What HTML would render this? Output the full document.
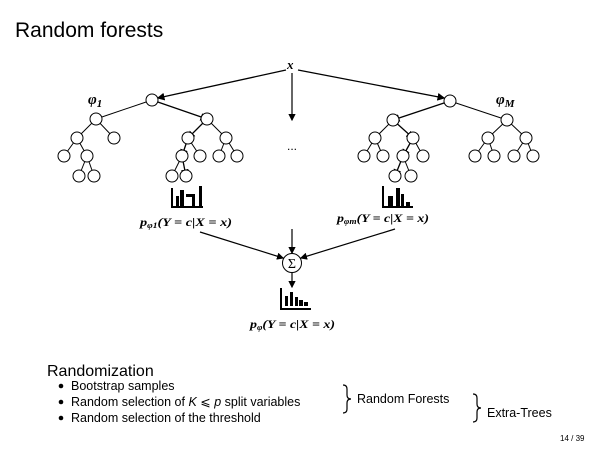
<!DOCTYPE html>
<html><head><style>
body{margin:0;background:#fff;}
svg{display:block;font-family:"Liberation Sans",sans-serif;}
</style></head><body>
<svg width="600" height="450" viewBox="0 0 600 450" xmlns="http://www.w3.org/2000/svg">
<defs><marker id="a" markerWidth="6" markerHeight="6" refX="5" refY="3" orient="auto"><path d="M0,0 L6,3 L0,6 z" fill="#000"/></marker></defs>
<text x="15" y="37" font-size="21">Random forests</text>
<text x="287" y="69" font-size="13" font-style="italic" font-family="Liberation Serif" font-weight="bold">x</text>
<g stroke="#000" stroke-width="1" fill="none">
<line x1="286" y1="70" x2="158" y2="98" stroke-width="1.3" marker-end="url(#a)"/>
<line x1="298" y1="70" x2="444" y2="98" stroke-width="1.3" marker-end="url(#a)"/>
<line x1="292" y1="73" x2="292" y2="120" stroke-width="1.2" marker-end="url(#a)"/>
<line x1="152" y1="100" x2="96" y2="119"/>
<line x1="152" y1="100" x2="207" y2="119" stroke-width="1.3" marker-end="url(#a)"/>
<line x1="96" y1="119" x2="77" y2="138"/><line x1="96" y1="119" x2="114" y2="138"/>
<line x1="207" y1="119" x2="188" y2="138" stroke-width="1.3" marker-end="url(#a)"/><line x1="207" y1="119" x2="226" y2="138"/>
<line x1="77" y1="138" x2="64" y2="156"/><line x1="77" y1="138" x2="87" y2="156"/>
<line x1="188" y1="138" x2="182" y2="156" stroke-width="1.3" marker-end="url(#a)"/><line x1="188" y1="138" x2="200" y2="156"/>
<line x1="226" y1="138" x2="219" y2="156"/><line x1="226" y1="138" x2="237" y2="156"/>
<line x1="87" y1="156" x2="79" y2="176"/><line x1="87" y1="156" x2="94" y2="176"/>
<line x1="182" y1="156" x2="172" y2="176"/><line x1="182" y1="156" x2="186" y2="176" stroke-width="1.3" marker-end="url(#a)"/>
<line x1="450" y1="101" x2="393" y2="120" stroke-width="1.3" marker-end="url(#a)"/>
<line x1="450" y1="101" x2="507" y2="120"/>
<line x1="393" y1="120" x2="375" y2="138"/><line x1="393" y1="120" x2="413" y2="138" stroke-width="1.3" marker-end="url(#a)"/>
<line x1="507" y1="120" x2="488" y2="138"/><line x1="507" y1="120" x2="526" y2="138"/>
<line x1="375" y1="138" x2="364" y2="156"/><line x1="375" y1="138" x2="383" y2="156"/>
<line x1="413" y1="138" x2="403" y2="156" stroke-width="1.3" marker-end="url(#a)"/><line x1="413" y1="138" x2="423" y2="156"/>
<line x1="488" y1="138" x2="475" y2="156"/><line x1="488" y1="138" x2="494" y2="156"/>
<line x1="526" y1="138" x2="514" y2="156"/><line x1="526" y1="138" x2="533" y2="156"/>
<line x1="403" y1="156" x2="395" y2="176" stroke-width="1.3" marker-end="url(#a)"/><line x1="403" y1="156" x2="411" y2="176"/>
<line x1="200" y1="232" x2="283" y2="258" stroke-width="1.2" marker-end="url(#a)"/>
<line x1="395" y1="229" x2="301" y2="258" stroke-width="1.2" marker-end="url(#a)"/>
<line x1="292" y1="229" x2="292" y2="253" stroke-width="1.2" marker-end="url(#a)"/>
<line x1="292" y1="273" x2="292" y2="287" stroke-width="1.2" marker-end="url(#a)"/>
<path d="M343,385 q4,0 4,4 v6 q0,4 4,4 q-4,0 -4,4 v6 q0,4 -4,4" stroke-width="1.2"/>
<path d="M473,394 q4,0 4,4 v6 q0,4 4,4 q-4,0 -4,4 v6 q0,4 -4,4" stroke-width="1.2"/>
</g>
<g stroke="#000" stroke-width="1" fill="#fff">
<circle cx="152" cy="100" r="6"/><circle cx="96" cy="119" r="6"/><circle cx="207" cy="119" r="6"/>
<circle cx="77" cy="138" r="6"/><circle cx="114" cy="138" r="6"/><circle cx="188" cy="138" r="6"/><circle cx="226" cy="138" r="6"/>
<circle cx="64" cy="156" r="6"/><circle cx="87" cy="156" r="6"/><circle cx="182" cy="156" r="6"/><circle cx="200" cy="156" r="6"/><circle cx="219" cy="156" r="6"/><circle cx="237" cy="156" r="6"/>
<circle cx="79" cy="176" r="6"/><circle cx="94" cy="176" r="6"/><circle cx="172" cy="176" r="6"/><circle cx="186" cy="176" r="6"/>
<circle cx="450" cy="101" r="6"/><circle cx="393" cy="120" r="6"/><circle cx="507" cy="120" r="6"/>
<circle cx="375" cy="138" r="6"/><circle cx="413" cy="138" r="6"/><circle cx="488" cy="138" r="6"/><circle cx="526" cy="138" r="6"/>
<circle cx="364" cy="156" r="6"/><circle cx="383" cy="156" r="6"/><circle cx="403" cy="156" r="6"/><circle cx="423" cy="156" r="6"/><circle cx="475" cy="156" r="6"/><circle cx="494" cy="156" r="6"/><circle cx="514" cy="156" r="6"/><circle cx="533" cy="156" r="6"/>
<circle cx="395" cy="176" r="6"/><circle cx="411" cy="176" r="6"/>
<circle cx="292" cy="263" r="9.5"/>
</g>
<text x="292" y="268" font-size="14" text-anchor="middle" font-family="Liberation Serif">Σ</text>
<text x="292" y="150" font-size="12" text-anchor="middle">...</text>
<text x="88" y="104" font-size="15" font-style="italic" font-family="Liberation Serif" font-weight="bold">φ<tspan font-size="11" dy="3">1</tspan></text>
<text x="496" y="104" font-size="15" font-style="italic" font-family="Liberation Serif" font-weight="bold">φ<tspan font-size="11" dy="3">M</tspan></text>
<g fill="#000">
<path d="M171,188 v20 h32 v-2 h-30 v-18z"/>
<rect x="176" y="196" width="3" height="10"/><rect x="180" y="190" width="4" height="16"/><rect x="186" y="194" width="8" height="3"/><rect x="192" y="194" width="3" height="12"/><rect x="199" y="186" width="3" height="20"/>
<path d="M382,186 v22 h31 v-2 h-29 v-20z"/>
<rect x="388" y="196" width="5" height="10"/><rect x="396" y="188" width="4" height="18"/><rect x="401" y="194" width="3" height="12"/><rect x="406" y="202" width="4" height="4"/>
<path d="M280,288 v22 h31 v-2 h-29 v-20z"/>
<rect x="285" y="296" width="3" height="10"/><rect x="290" y="292" width="3" height="14"/><rect x="295" y="297" width="3" height="9"/><rect x="299" y="300" width="4" height="6"/><rect x="304" y="302" width="4" height="4"/>
</g>
<g font-family="Liberation Serif" font-style="italic" font-size="12" font-weight="bold">
<text x="140" y="226" textLength="92" lengthAdjust="spacingAndGlyphs">p<tspan font-size="8" dy="2">φ1</tspan><tspan dy="-2">(Y = c|X = x)</tspan></text>
<text x="337" y="222" textLength="92" lengthAdjust="spacingAndGlyphs">p<tspan font-size="8" dy="2">φm</tspan><tspan dy="-2">(Y = c|X = x)</tspan></text>
<text x="250" y="328" textLength="85" lengthAdjust="spacingAndGlyphs">p<tspan font-size="8" dy="2">φ</tspan><tspan dy="-2">(Y = c|X = x)</tspan></text>
</g>
<text x="47" y="376" font-size="16">Randomization</text>
<g font-size="12.5">
<circle cx="61" cy="386" r="2.3"/><text x="71" y="390">Bootstrap samples</text>
<circle cx="61" cy="402" r="2.3"/><text x="71" y="406">Random selection of <tspan font-style="italic">K</tspan> ⩽ <tspan font-style="italic">p</tspan> split variables</text>
<circle cx="61" cy="418" r="2.3"/><text x="71" y="422">Random selection of the threshold</text>
<text x="357" y="403">Random Forests</text>
<text x="487" y="417">Extra-Trees</text>
</g>
<text x="560" y="441" font-size="8">14 / 39</text>
</svg>
</body></html>
